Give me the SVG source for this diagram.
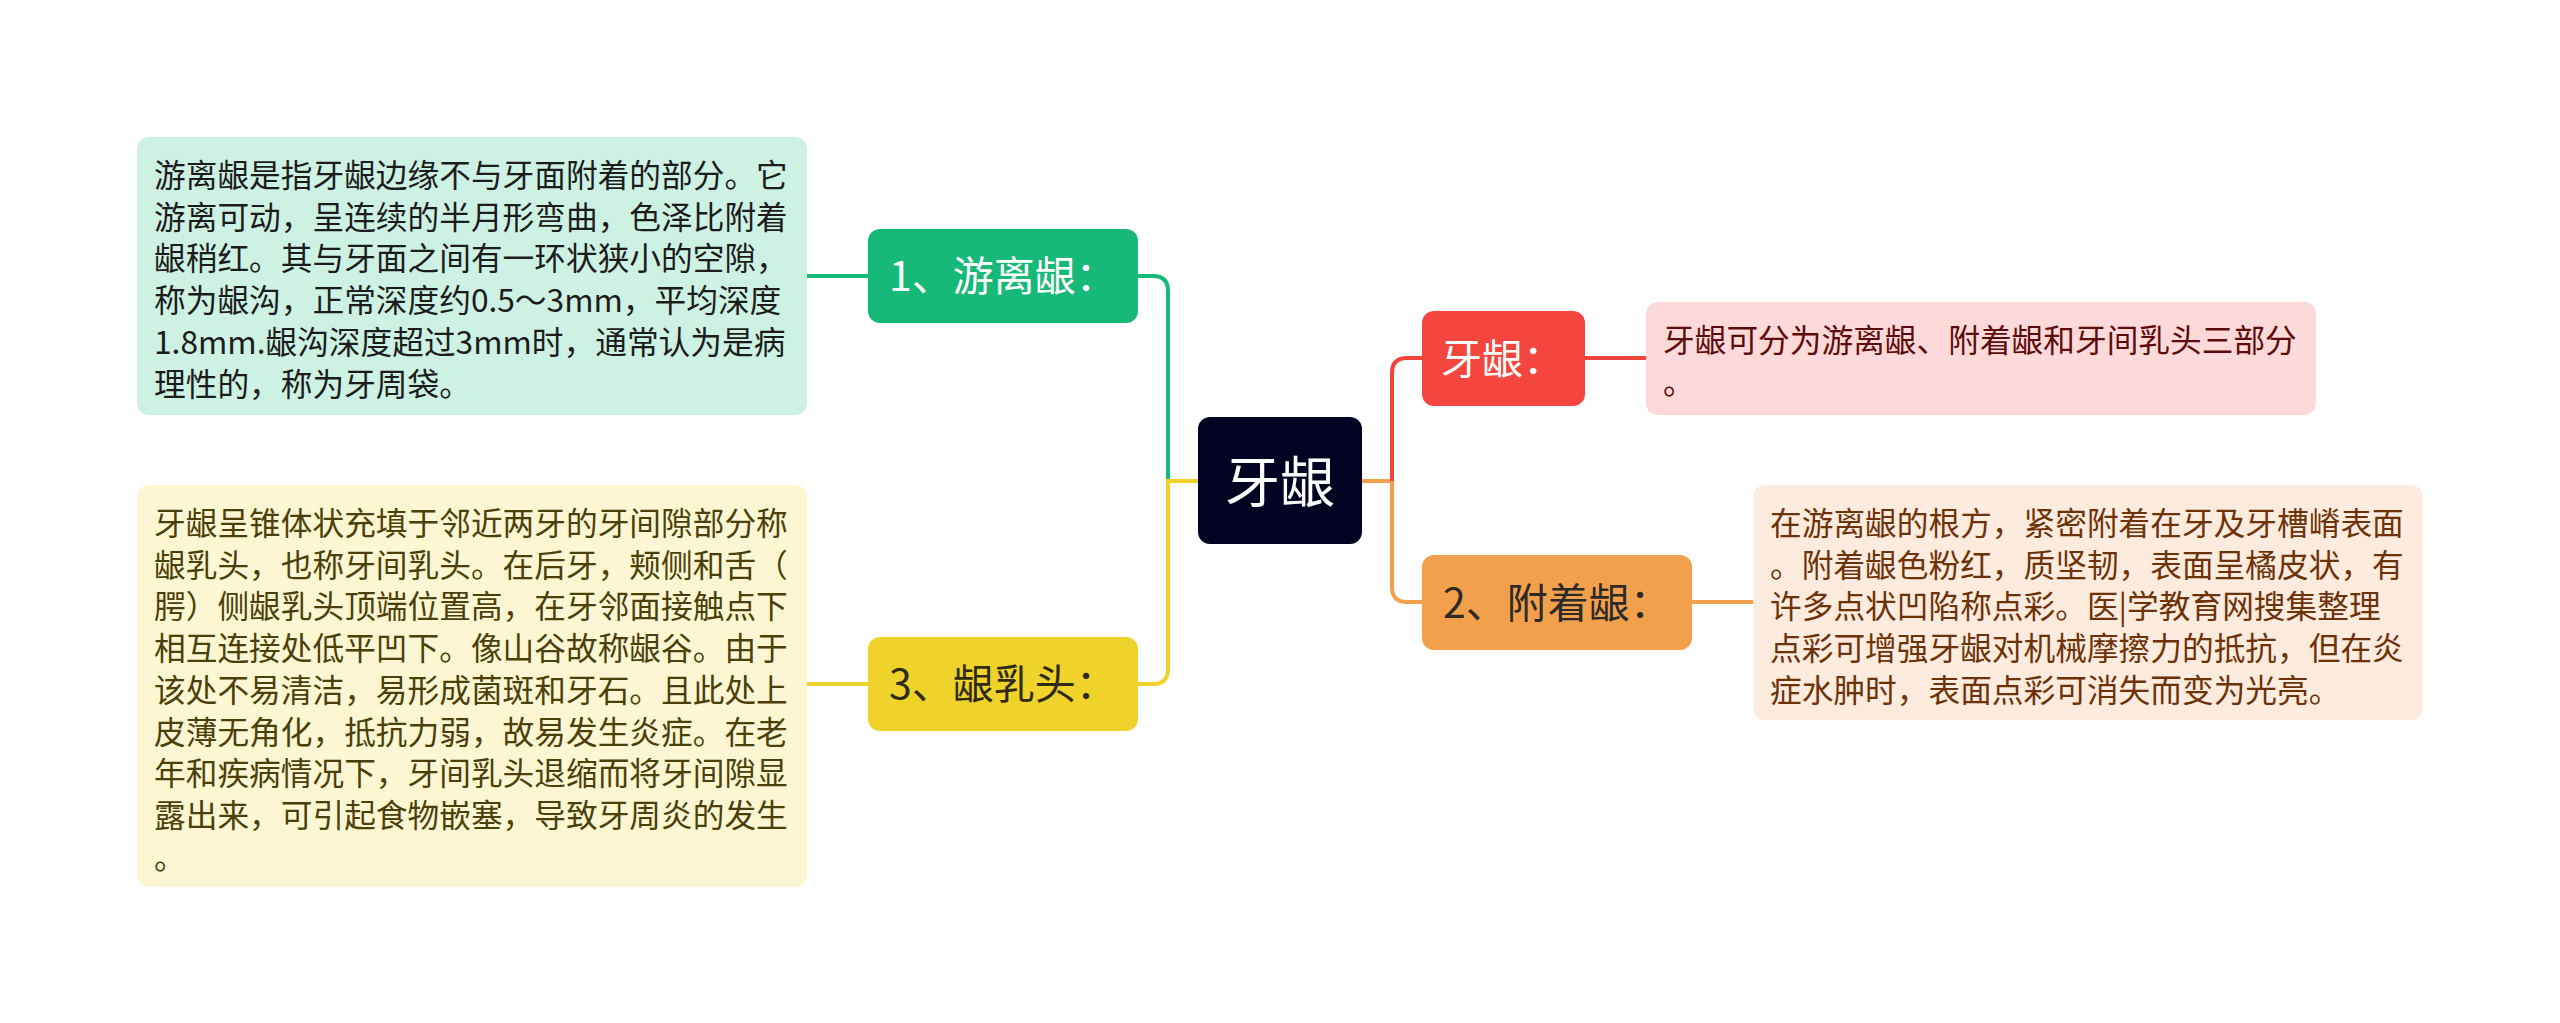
<svg xmlns="http://www.w3.org/2000/svg" width="2560" height="1023" viewBox="0 0 2560 1023">
<style>
.t{font-family:"Noto Sans CJK SC","Noto Sans",sans-serif;}
.leaf{font-size:31.7px;}
.node{font-size:41px;}
.conn{fill:none;stroke-width:4;stroke-linecap:butt;}
</style>
<rect width="2560" height="1023" fill="#ffffff"/>
<g id="connectors">
  <path class="conn" stroke="#17b978" d="M807,276 H869"/>
  <path class="conn" stroke="#17b978" d="M1137,276 H1153 Q1168,276 1168,291 V481"/>
  <path class="conn" stroke="#f0d32a" d="M1168,481 V669 Q1168,684 1153,684 H1137"/>
  <path class="conn" stroke="#f0d32a" d="M1166,481 H1199"/>
  <path class="conn" stroke="#f0d32a" d="M807,684 H869"/>
  <path class="conn" stroke="#f3a04d" d="M1361,481 H1394"/>
  <path class="conn" stroke="#f0443c" d="M1392,481 V373 Q1392,358 1407,358 H1423"/>
  <path class="conn" stroke="#f3a04d" d="M1392,481 V587 Q1392,602 1407,602 H1423"/>
  <path class="conn" stroke="#f0443c" d="M1585,358 H1647"/>
  <path class="conn" stroke="#f3a04d" d="M1691,602 H1754"/>
</g>
<g id="center">
  <rect x="1198" y="417" width="164" height="127" rx="12" fill="#020322"/>
  <text class="t" x="1280" y="502" font-size="55" fill="#ffffff" text-anchor="middle">牙龈</text>
</g>
<g id="node-youli">
  <rect x="868" y="229" width="270" height="94" rx="12" fill="#17b978"/>
  <text class="t node" x="889" y="291" fill="#ffffff">1、游离龈：</text>
</g>
<g id="leaf-youli">
  <rect x="137" y="137" width="670" height="278" rx="12" fill="#cdf1e3"/>
  <text class="t leaf" fill="#1c1c1c">
    <tspan x="154" y="187">游离龈是指牙龈边缘不与牙面附着的部分。它</tspan>
    <tspan x="154" y="228.7">游离可动，呈连续的半月形弯曲，色泽比附着</tspan>
    <tspan x="154" y="270.4">龈稍红。其与牙面之间有一环状狭小的空隙，</tspan>
    <tspan x="154" y="312.1">称为龈沟，正常深度约0.5～3mm，平均深度</tspan>
    <tspan x="154" y="353.8">1.8mm.龈沟深度超过3mm时，通常认为是病</tspan>
    <tspan x="154" y="395.5">理性的，称为牙周袋。</tspan>
  </text>
</g>
<g id="node-ruto">
  <rect x="868" y="637" width="270" height="94" rx="12" fill="#f0d32a"/>
  <text class="t node" x="889" y="699" fill="#2e2a14">3、龈乳头：</text>
</g>
<g id="leaf-ruto">
  <rect x="137" y="485" width="670" height="402" rx="12" fill="#fdf6d2"/>
  <text class="t leaf" fill="#4b3f0a">
    <tspan x="154" y="535">牙龈呈锥体状充填于邻近两牙的牙间隙部分称</tspan>
    <tspan x="154" y="576.7">龈乳头，也称牙间乳头。在后牙，颊侧和舌（</tspan>
    <tspan x="154" y="618.4">腭）侧龈乳头顶端位置高，在牙邻面接触点下</tspan>
    <tspan x="154" y="660.1">相互连接处低平凹下。像山谷故称龈谷。由于</tspan>
    <tspan x="154" y="701.8">该处不易清洁，易形成菌斑和牙石。且此处上</tspan>
    <tspan x="154" y="743.5">皮薄无角化，抵抗力弱，故易发生炎症。在老</tspan>
    <tspan x="154" y="785.2">年和疾病情况下，牙间乳头退缩而将牙间隙显</tspan>
    <tspan x="154" y="826.9">露出来，可引起食物嵌塞，导致牙周炎的发生</tspan>
    <tspan x="154" y="868.6">。</tspan>
  </text>
</g>
<g id="node-yayin">
  <rect x="1422" y="311" width="163" height="95" rx="12" fill="#f4463e"/>
  <text class="t node" x="1441" y="374" fill="#ffffff">牙龈：</text>
</g>
<g id="leaf-yayin">
  <rect x="1646" y="302" width="670" height="113" rx="12" fill="#fdd9d9"/>
  <text class="t leaf" fill="#5e0b0b">
    <tspan x="1663" y="352">牙龈可分为游离龈、附着龈和牙间乳头三部分</tspan>
    <tspan x="1663" y="393.7">。</tspan>
  </text>
</g>
<g id="node-fuzhuo">
  <rect x="1422" y="555" width="270" height="95" rx="12" fill="#f3a04d"/>
  <text class="t node" x="1443" y="618" fill="#2d2a26">2、附着龈：</text>
</g>
<g id="leaf-fuzhuo">
  <rect x="1753" y="485" width="670" height="235" rx="12" fill="#fdebdd"/>
  <text class="t leaf" fill="#6e3209">
    <tspan x="1770" y="535">在游离龈的根方，紧密附着在牙及牙槽嵴表面</tspan>
    <tspan x="1770" y="576.7">。附着龈色粉红，质坚韧，表面呈橘皮状，有</tspan>
    <tspan x="1770" y="618.4">许多点状凹陷称点彩。医|学教育网搜集整理</tspan>
    <tspan x="1770" y="660.1">点彩可增强牙龈对机械摩擦力的抵抗，但在炎</tspan>
    <tspan x="1770" y="701.8">症水肿时，表面点彩可消失而变为光亮。</tspan>
  </text>
</g>
</svg>
